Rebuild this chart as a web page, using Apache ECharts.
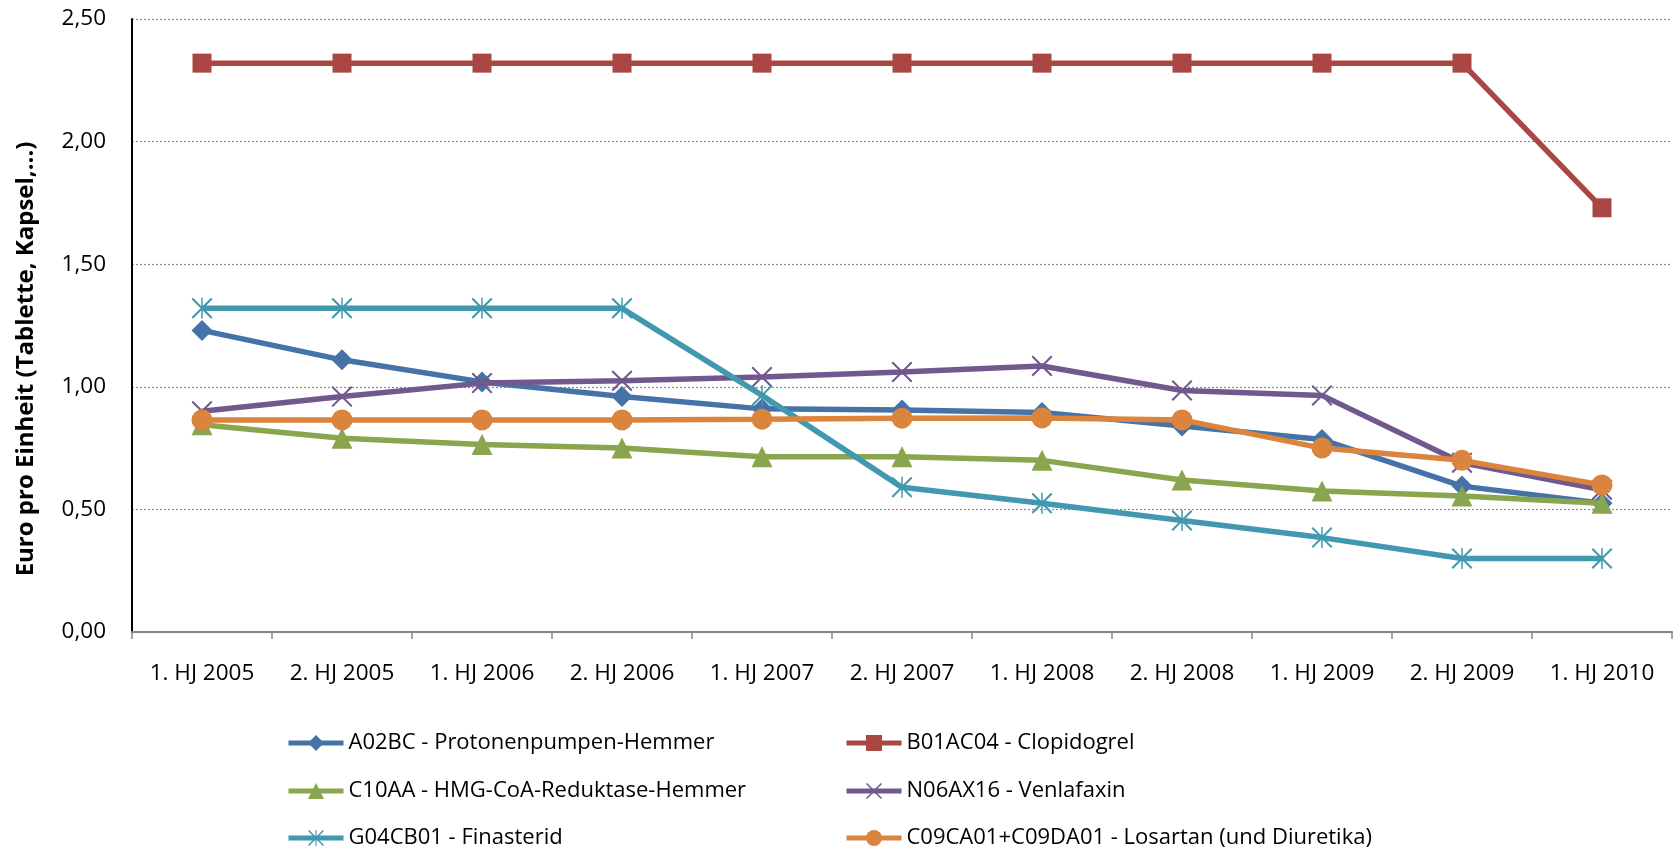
<!DOCTYPE html>
<html>
<head>
<meta charset="utf-8">
<script src="https://cdn.jsdelivr.net/npm/echarts@6/dist/echarts.min.js"></script>
<style>
html,body{margin:0;padding:0;background:#fff;}
#chart{width:1677px;height:851px;}
</style>
</head>
<body>
<div id="chart"></div>
<script>
const categories = ['1. HJ 2005','2. HJ 2005','1. HJ 2006','2. HJ 2006','1. HJ 2007','2. HJ 2007','1. HJ 2008','2. HJ 2008','1. HJ 2009','2. HJ 2009','1. HJ 2010'];
const seriesNames = [
  'A02BC - Protonenpumpen-Hemmer',
  'B01AC04 - Clopidogrel',
  'C10AA - HMG-CoA-Reduktase-Hemmer',
  'N06AX16 - Venlafaxin',
  'G04CB01 - Finasterid',
  'C09CA01+C09DA01 - Losartan (und Diuretika)'
];
const a02bc   = [1.23, 1.11, 1.02, 0.96, 0.91, 0.905, 0.895, 0.84, 0.785, 0.595, 0.525];
const b01ac04 = [2.32, 2.32, 2.32, 2.32, 2.32, 2.32, 2.32, 2.32, 2.32, 2.32, 1.73];
const c10aa   = [0.845, 0.79, 0.765, 0.75, 0.715, 0.715, 0.70, 0.62, 0.575, 0.555, 0.525];
const n06ax16 = [0.90, 0.96, 1.015, 1.025, 1.04, 1.06, 1.085, 0.985, 0.965, 0.69, 0.58];
const g04cb01 = [1.32, 1.32, 1.32, 1.32, 0.965, 0.59, 0.525, 0.455, 0.385, 0.30, 0.30];
const c09ca01 = [0.865, 0.865, 0.865, 0.865, 0.868, 0.872, 0.873, 0.865, 0.75, 0.70, 0.60];
const yAxisTitle = 'Euro pro Einheit (Tablette, Kapsel,…)';

const colors = ['#4572A7','#AA4643','#89A54E','#71588F','#4198AF','#DB843D'];
const xPath = 'path://M0,1.4L1.4,0L20,18.6L18.6,20Z M18.6,0L20,1.4L1.4,20L0,18.6Z';
const starPath = 'path://M0,1.4L1.4,0L20,18.6L18.6,20Z M18.6,0L20,1.4L1.4,20L0,18.6Z M9.3,0L10.7,0L10.7,20L9.3,20Z';
const symbols = ['diamond','rect','triangle', xPath, starPath, 'circle'];
const sizes = [21, 19, 21, 21, 21, 21];
const values = [a02bc, b01ac04, c10aa, n06ax16, g04cb01, c09ca01];

const FONT = '"Open Sans", "DejaVu Sans", sans-serif';

const chart = echarts.init(document.getElementById('chart'));
const series = seriesNames.map((name, i) => ({
  name: name,
  type: 'line',
  data: values[i],
  symbol: symbols[i],
  symbolSize: sizes[i],
  showAllSymbol: true,
  lineStyle: { color: colors[i], width: 5.5 },
  itemStyle: { color: colors[i], borderWidth: 0 },
  emphasis: { disabled: true },
  animation: false,
  z: 2 + i
}));

// legend positions: two columns, three rows
const legendCols = [286, 844];
const legendRowCenters = [743, 791, 838];
const legends = seriesNames.map((name, i) => ({
  orient: 'horizontal',
  left: legendCols[i % 2],
  top: legendRowCenters[Math.floor(i / 2)] - 12,
  padding: 0,
  itemWidth: 55,
  itemHeight: 20,
  selectedMode: false,
  data: [name],
  lineStyle: { width: 5 },
  textStyle: { fontFamily: FONT, fontSize: 22, color: '#000', lineHeight: 24 }
}));

chart.setOption({
  animation: false,
  color: colors,
  grid: { left: 132, right: 5, top: 19, bottom: 219, containLabel: false },
  xAxis: {
    type: 'category',
    data: categories,
    boundaryGap: true,
    axisLine: { show: true, lineStyle: { color: '#868686', width: 2 } },
    axisTick: { show: true, length: 7, lineStyle: { color: '#868686', width: 1.5 } },
    axisLabel: { fontFamily: FONT, fontSize: 22.5, color: '#000', margin: 30, interval: 0 },
    splitLine: { show: false }
  },
  yAxis: {
    type: 'value',
    min: 0,
    max: 2.5,
    interval: 0.5,
    axisLine: { show: true, lineStyle: { color: '#000', width: 2 } },
    axisTick: { show: false },
    axisLabel: {
      fontFamily: FONT, fontSize: 22.5, color: '#000', margin: 26,
      formatter: v => v.toFixed(2).replace('.', ',')
    },
    splitLine: { show: true, lineStyle: { color: '#8a8a8a', width: 1.2, type: [2, 2] } }
  },
  legend: legends,
  graphic: [{
    type: 'text',
    x: 26, y: 359,
    rotation: Math.PI / 2,
    style: {
      text: yAxisTitle,
      font: 'bold 24px ' + FONT,
      fill: '#000',
      textAlign: 'center',
      textVerticalAlign: 'middle'
    }
  }],
  series: series
});
</script>
</body>
</html>
